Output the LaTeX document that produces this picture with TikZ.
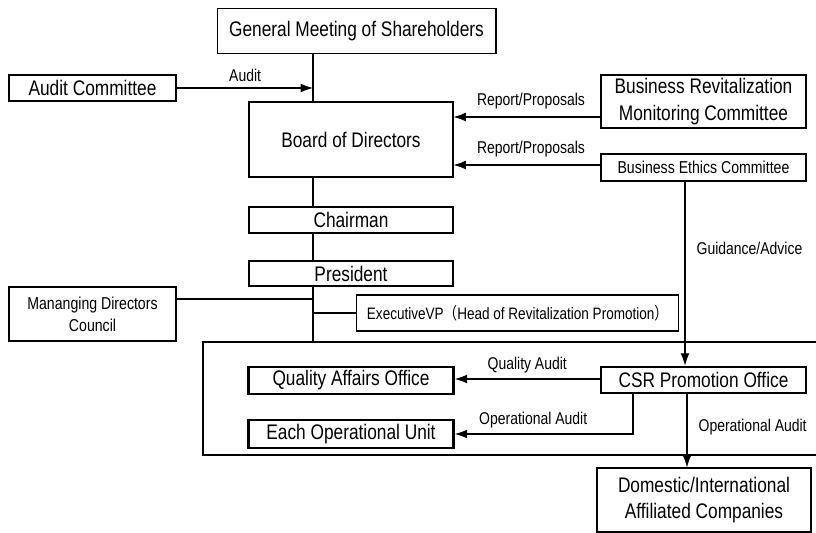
\documentclass[tikz,border=0pt]{standalone}
\usepackage{fontspec}
\setmainfont{Liberation Sans}[FakeStretch=0.82]
\newfontfamily\cjk{Noto Sans CJK JP}[FakeStretch=0.82]
\usetikzlibrary{arrows.meta, calc}

\tikzset{
	unit/.style = {draw, inner sep=0pt, align=center, line width=0.6pt,
		font=\fontsize{12}{15}\selectfont},
	heavy/.style = {unit, line width=1.5pt},
	small/.style = {font=\fontsize{9.8}{12.5}\selectfont},
	lbl/.style = {font=\fontsize{9.7}{11}\selectfont},
	arr/.style = {-{Latex[length=7pt, width=5pt]}},
}

\begin{document}
\begin{tikzpicture}[x=0.02cm, y=-0.02cm, line width=0.6pt]
		\useasboundingbox (0,0) rectangle (816,533);
		\def\S{313}; % main spine
		
		% upper part
		\node[unit, minimum width=5.58cm, minimum height=0.9cm] (gms) at (356.5,31) {General Meeting of Shareholders};
		\node[heavy, minimum width=3.34cm, minimum height=0.52cm] (audit) at (92.5,88) {Audit Committee};
		\node[unit, minimum width=4.08cm, minimum height=1.5cm] (board) at (351,139.5) {Board of Directors};
		\node[heavy, minimum width=4.1cm, minimum height=1.06cm] (bizrev) at (703.5,101.5) {Business Revitalization\\Monitoring Committee};
		\node[heavy, small, minimum width=4.1cm, minimum height=0.54cm] (ethics) at (703.5,167.5) {Business Ethics Committee};
		
		% management
		\node[heavy, minimum width=4.08cm, minimum height=0.52cm] (chair) at (351,220) {Chairman};
		\node[heavy, minimum width=4.08cm, minimum height=0.5cm] (pres) at (351,273.5) {President};
		\node[heavy, small, minimum width=3.34cm, minimum height=1.08cm] (mdc) at (92.5,314) {Mananging Directors\\Council};
		\node[unit, font=\fontsize{9.4}{12}\selectfont, minimum width=6.46cm, minimum height=0.72cm] (evp) at (517.5,313) {ExecutiveVP{\cjk （}Head of Revitalization Promotion{\cjk ）}};
		
		% operations
		\node[heavy, minimum width=4.1cm, minimum height=0.54cm] (qao) at (351,380.5) {Quality Affairs Office};
		\node[heavy, minimum width=4.1cm, minimum height=0.56cm] (eou) at (351,434) {Each Operational Unit};
		\node[heavy, minimum width=4.1cm, minimum height=0.52cm] (csr) at (703.5,380) {CSR Promotion Office};
		\node[unit, minimum width=4.28cm, minimum height=1.28cm] (dom) at (704,500) {Domestic/International\\Affiliated Companies};
		
		\coordinate (top) at (\S,342);
		\draw (816,342) -- (203,342) -- (203,455) -- (816,455);
		
		% spine
		\draw (gms.south -| \S,0) -- (board.north -| \S,0);
		\draw (board.south -| \S,0) -- (chair.north -| \S,0);
		\draw (chair.south -| \S,0) -- (pres.north -| \S,0);
		\draw (pres.south -| \S,0) -- (top);
		\draw (mdc.east |- 0,299) -- (\S,299);
		\draw (evp.west) -- (evp.west -| \S,0);
		
		\begin{scope}[arr]
			\draw (audit.east) -- (audit.east -| \S,0) node [lbl, midway, above=0pt] {Audit};
			\draw (bizrev.west |- 0,117) -- (board.east |- 0,117) node [lbl, pos=0.47, above=1pt] {Report/Proposals};
			\draw (ethics.west |- 0,165) -- (board.east |- 0,165) node [lbl, pos=0.47, above=1pt] {Report/Proposals};
			\draw (ethics.south -| 685,0) -- (csr.north -| 685,0) node [lbl, pos=0.36, right=3pt] {Guidance/Advice};
			\draw (csr.west |- 0,379) -- (qao.east |- 0,379) node [lbl, pos=0.5, above=0pt] {Quality Audit};
			\draw (csr.south -| 633,0) |- (eou.east) node [lbl, pos=0.78, above=0pt] {Operational Audit};
			\draw (csr.south -| 687,0) -- (dom.north -| 687,0) node [lbl, pos=0.45, right=3pt] {Operational Audit};
		\end{scope}
	\end{tikzpicture}
\end{document}
